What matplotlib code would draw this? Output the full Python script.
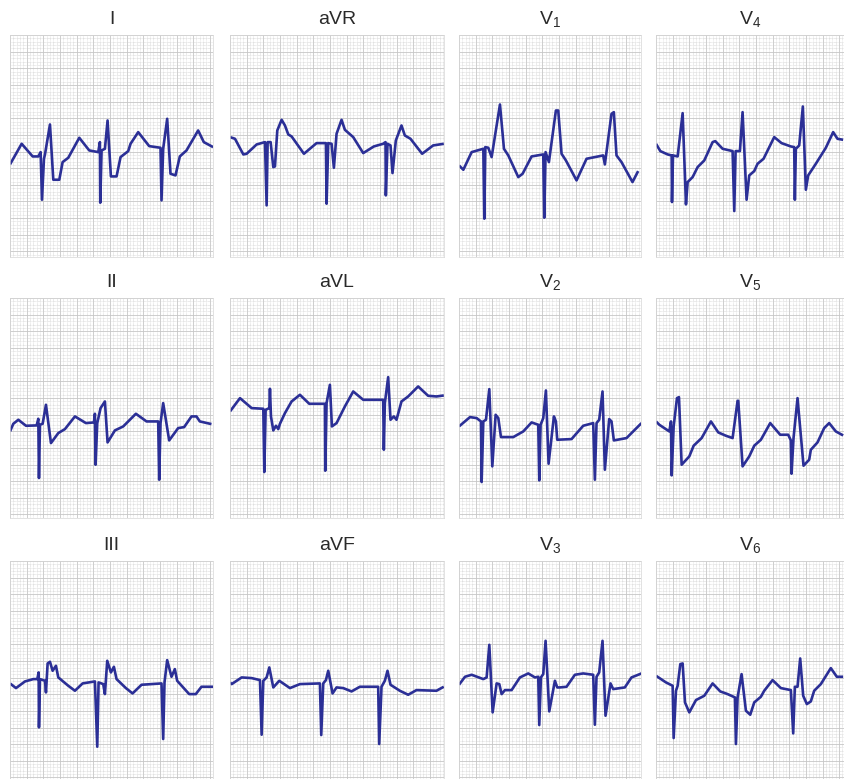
#!/usr/bin/env python3
"""
12-lead ECG panel sheet redrawn from traced points.
Time and amplitude are in millimetres of ECG paper (1 small box = 1 mm).
"""

import numpy as np
import matplotlib.pyplot as plt

plt.rcParams['font.family'] = ['Liberation Sans', 'DejaVu Sans']
plt.rcParams['mathtext.default'] = 'regular'

TRACE_COLOR = '#2b2f96'

# Lead layout (row-major)
LEADS = [["I", "aVR", "V$_1$", "V$_4$"],
         ["II", "aVL", "V$_2$", "V$_5$"],
         ["III", "aVF", "V$_3$", "V$_6$"]]

# Traced samples, time (mm) and amplitude (mm above bottom of panel)
I_t = [0, 3.5, 6.8, 8.5, 9.2, 9.6, 10.2, 10.5, 12.0, 13.0, 14.8, 15.8, 17.5, 20.8, 23.8, 26.5,
       27.0, 27.1, 27.5, 28.5, 29.3, 30.3, 32.0, 33.2, 35.5, 36.2, 38.5, 41.8, 45.2, 45.5, 46.0,
       47.2, 48.2, 49.7, 51.0, 53.0, 56.5, 58.2, 61.0]
I_v = [27.8, 34.0, 30.2, 30.2, 31.5, 17.2, 29.5, 30.8, 39.8, 23.2, 23.2, 28.5, 29.8, 35.8, 32.0, 31.5,
       34.5, 16.3, 32.0, 32.5, 41.0, 24.2, 24.2, 30.0, 31.8, 34.0, 37.5, 33.3, 32.8, 17.0, 32.5,
       41.5, 25.0, 24.5, 30.2, 32.0, 38.0, 34.5, 33.0]

aVR_t = [0, 1.5, 4.0, 5.0, 8.0, 10.5, 11.0, 11.3, 12.2, 13.0, 13.5, 14.2, 15.5, 16.5, 17.5, 18.5,
         22.2, 26.0, 28.8, 29.0, 29.5, 30.5, 31.2, 32.0, 33.5, 34.5, 37.0, 40.0, 43.2, 46.0, 46.7,
         46.8, 47.3, 48.2, 48.8, 49.8, 51.5, 52.5, 54.2, 57.7, 61.0, 64.2]
aVR_v = [36.0, 35.5, 30.8, 31.0, 33.8, 34.5, 15.5, 34.5, 34.5, 27.0, 27.2, 38.0, 41.2, 39.5, 36.8, 36.2,
         31.0, 34.2, 34.2, 16.0, 34.2, 34.0, 26.8, 37.0, 41.2, 38.2, 36.0, 31.2, 33.2, 34.0, 34.5,
         18.5, 34.0, 33.5, 25.2, 35.0, 39.5, 36.5, 35.5, 31.0, 33.5, 34.0]

V1_t = [0, 1.3, 3.8, 7.3, 7.6, 7.9, 8.8, 9.8, 12.3, 13.5, 14.8, 17.8, 19.1, 21.8, 25.3, 25.6, 26.0,
        27.0, 29.1, 29.8, 30.8, 32.1, 35.3, 38.3, 43.3, 43.8, 45.8, 46.5, 47.3, 48.8, 52.1, 53.8]
V1_v = [27.5, 26.2, 31.5, 32.5, 11.5, 33.0, 32.8, 30.0, 45.8, 32.5, 30.5, 24.0, 25.0, 30.2, 30.8, 11.8, 31.5,
        28.5, 44.0, 44.0, 31.0, 29.0, 23.0, 29.5, 30.5, 27.8, 43.0, 43.5, 30.5, 28.5, 22.5, 25.8]

V4_t = [0, 1.3, 3.5, 4.7, 4.8, 5.1, 6.5, 8.0, 9.0, 9.5, 11.0, 12.5, 14.5, 17.0, 17.8, 20.0, 23.0,
        23.5, 23.9, 25.2, 26.0, 27.2, 28.0, 29.5, 30.5, 32.3, 35.5, 37.7, 40.5, 41.5, 41.7, 42.0,
        43.0, 44.1, 45.0, 45.7, 48.0, 51.0, 53.2, 54.5, 56.2]
V4_v = [34.0, 31.8, 30.8, 30.5, 16.5, 30.5, 30.2, 43.2, 15.8, 22.5, 24.0, 27.0, 29.0, 34.5, 34.8, 32.5, 31.8,
        13.8, 31.8, 31.8, 43.5, 17.2, 24.5, 25.8, 28.0, 29.5, 36.0, 34.2, 33.2, 33.0, 17.2, 32.5,
        33.5, 45.2, 20.2, 24.5, 28.0, 32.8, 37.5, 35.5, 35.2]

II_t = [0, 1.0, 2.5, 4.8, 8.0, 8.5, 8.7, 9.0, 9.8, 10.8, 12.3, 14.5, 16.5, 19.5, 22.8, 25.2, 25.5,
        25.7, 26.2, 27.2, 28.5, 29.3, 31.5, 34.0, 37.8, 41.0, 44.5, 44.8, 45.2, 46.0, 47.8, 50.5,
        52.3, 54.5, 56.0, 57.0, 60.5]
II_v = [26.0, 28.3, 29.5, 27.7, 27.8, 29.8, 12.0, 28.0, 28.3, 34.0, 22.5, 25.5, 26.7, 30.5, 28.5, 28.7, 31.3,
        16.0, 28.5, 33.0, 35.0, 22.7, 26.3, 27.5, 31.3, 29.0, 29.0, 11.5, 28.5, 34.5, 23.3, 27.0,
        27.3, 30.5, 30.5, 29.0, 28.2]

aVL_t = [0, 3.0, 6.5, 10.0, 10.3, 10.7, 11.8, 12.0, 12.3, 13.0, 13.8, 14.5, 15.0, 16.5, 18.5, 21.0,
         23.8, 27.5, 28.5, 28.6, 29.0, 30.0, 30.6, 32.0, 33.5, 34.5, 37.0, 40.0, 44.5, 46.0, 46.2,
         46.5, 47.5, 48.2, 49.2, 50.0, 51.5, 53.5, 56.5, 59.5, 62.0, 64.2]
aVL_v = [32.0, 36.0, 33.0, 32.8, 13.8, 32.5, 33.0, 38.8, 30.5, 26.3, 27.7, 26.7, 28.3, 31.5, 35.0, 37.0,
         34.3, 34.3, 34.3, 14.2, 34.5, 40.0, 27.5, 28.5, 31.5, 33.5, 38.0, 35.5, 35.5, 35.5, 20.5,
         34.5, 42.3, 29.5, 30.5, 29.5, 35.0, 36.5, 39.5, 36.7, 36.5, 36.8]

V2_t = [0, 3.3, 5.3, 6.6, 6.8, 7.3, 8.1, 9.1, 10.0, 11.0, 11.8, 12.6, 16.3, 19.3, 21.8, 23.8, 24.1,
        24.5, 25.3, 26.1, 26.9, 28.5, 29.1, 29.5, 33.8, 37.3, 40.3, 40.8, 41.3, 42.1, 43.1, 43.8,
        45.1, 45.8, 46.5, 50.3, 54.8]
V2_v = [27.5, 30.3, 30.0, 29.0, 10.8, 29.0, 29.5, 38.7, 15.5, 31.0, 30.0, 24.3, 24.3, 26.0, 28.7, 28.0, 11.3,
        28.0, 30.0, 38.3, 16.3, 30.5, 29.0, 23.5, 23.7, 27.7, 28.5, 11.5, 28.5, 29.5, 38.0, 14.5,
        29.7, 29.0, 23.3, 24.0, 28.5]

V5_t = [0, 1.0, 4.0, 4.5, 4.7, 5.3, 6.3, 6.9, 7.7, 10.0, 11.3, 13.7, 16.5, 18.7, 21.0, 23.0, 24.5,
        24.7, 26.0, 28.0, 29.5, 31.5, 34.3, 37.3, 39.7, 40.5, 40.7, 41.3, 42.5, 44.3, 46.0, 46.5,
        48.5, 50.5, 52.0, 54.0, 56.2]
V5_v = [29.0, 28.0, 26.0, 29.0, 12.8, 27.5, 36.0, 36.3, 16.0, 18.5, 21.7, 24.0, 29.0, 25.7, 24.7, 24.0, 35.2,
        35.2, 15.5, 18.5, 21.7, 23.5, 28.5, 25.0, 25.0, 23.3, 13.3, 24.0, 36.0, 15.7, 17.5, 20.5,
        22.7, 27.0, 28.5, 26.0, 24.8]

III_t = [0, 1.8, 4.5, 7.0, 8.2, 8.6, 8.7, 9.0, 10.5, 10.8, 11.3, 12.0, 12.8, 13.8, 14.5, 17.5, 19.5,
         21.8, 25.5, 26.2, 26.6, 28.0, 28.5, 29.2, 30.3, 31.2, 32.0, 34.8, 36.8, 39.5, 45.5, 46.0,
         46.4, 47.2, 48.5, 49.5, 50.2, 53.8, 55.8, 57.5, 61.0]
III_v = [28.7, 27.3, 29.3, 30.0, 30.0, 32.0, 15.5, 30.0, 29.5, 26.0, 34.7, 35.2, 32.5, 34.0, 30.5, 28.0, 26.5,
         28.7, 29.3, 9.7, 29.0, 28.5, 25.5, 35.5, 32.0, 33.7, 30.0, 27.3, 25.7, 28.3, 28.7, 12.0,
         29.0, 35.7, 30.7, 33.0, 29.5, 25.5, 25.5, 27.7, 27.7]

aVF_t = [0, 0.5, 3.5, 6.5, 9.0, 9.5, 10.0, 11.0, 11.8, 13.0, 14.8, 18.0, 21.0, 27.0, 27.4, 28.0,
         28.8, 29.5, 30.8, 32.0, 34.0, 36.5, 39.0, 44.5, 44.8, 45.5, 46.5, 47.3, 48.2, 51.0, 53.5,
         56.0, 62.0, 64.2]
aVF_v = [29.0, 28.5, 30.5, 30.3, 29.7, 13.3, 29.5, 30.5, 33.5, 27.5, 29.5, 27.3, 28.5, 28.7, 13.2, 28.7,
         29.7, 32.5, 25.7, 27.5, 27.3, 26.3, 27.7, 27.7, 10.5, 27.7, 29.5, 32.5, 28.3, 26.5, 25.3,
         26.7, 26.5, 27.7]

V3_t = [0, 1.8, 3.8, 7.3, 8.3, 9.1, 10.1, 11.3, 12.1, 12.8, 13.8, 15.8, 18.3, 20.8, 22.8, 23.8, 24.1,
        24.6, 25.3, 26.0, 27.1, 28.8, 29.5, 30.3, 32.3, 34.8, 37.3, 40.3, 40.8, 41.3, 42.1, 43.1,
        44.0, 45.5, 46.3, 49.8, 51.8, 54.8]
V3_v = [28.3, 30.7, 31.3, 30.0, 30.5, 40.3, 20.0, 28.7, 28.5, 25.5, 26.7, 26.7, 30.5, 31.7, 30.5, 30.7, 16.2,
        30.5, 31.5, 41.5, 20.3, 29.5, 27.5, 27.5, 27.7, 31.3, 31.7, 31.3, 16.3, 30.7, 32.0, 41.5,
        19.0, 28.7, 27.0, 27.5, 30.5, 31.7]

V6_t = [0, 3.0, 5.0, 5.3, 6.0, 6.5, 7.3, 8.0, 8.7, 10.0, 12.0, 14.5, 17.0, 19.3, 21.5, 23.7, 24.0,
        24.5, 25.7, 27.0, 28.3, 29.5, 31.5, 32.5, 35.0, 37.5, 40.5, 41.2, 41.7, 42.5, 43.3, 44.2,
        45.3, 46.5, 47.5, 49.5, 52.5, 54.3, 56.2]
V6_v = [31.0, 29.0, 28.0, 12.3, 26.5, 28.0, 34.5, 34.7, 23.0, 20.0, 23.7, 25.0, 28.7, 26.3, 25.5, 24.5, 10.5,
        24.5, 31.5, 20.5, 19.3, 23.0, 24.7, 26.5, 29.7, 27.3, 26.7, 13.7, 27.7, 27.7, 36.2, 25.0,
        22.5, 23.3, 26.5, 28.5, 33.3, 30.7, 30.7]

TRACES = {
    "I": (I_t, I_v), "aVR": (aVR_t, aVR_v), "V$_1$": (V1_t, V1_v), "V$_4$": (V4_t, V4_v),
    "II": (II_t, II_v), "aVL": (aVL_t, aVL_v), "V$_2$": (V2_t, V2_v), "V$_5$": (V5_t, V5_v),
    "III": (III_t, III_v), "aVF": (aVF_t, aVF_v), "V$_3$": (V3_t, V3_v), "V$_6$": (V6_t, V6_v),
}

# Panel geometry in pixels (figure is 844 x 779)
W, H = 844, 779
PX_PER_MM = 3.33
COLS = [(10, 213), (230, 444), (459, 641), (656, 844)]
ROWS = [(35, 257), (298, 518), (561, 779)]


def draw_panel(ax, w_mm, h_mm):
    """ECG paper grid: 1 mm dotted, 5 mm solid"""
    ax.set_xlim(0, w_mm)
    ax.set_ylim(0, h_mm)
    ax.set_xticks(np.arange(0, w_mm, 5))
    ax.set_yticks(np.arange(h_mm, 0, -5))
    ax.set_xticks(np.arange(0, w_mm, 1), minor=True)
    ax.set_yticks(np.arange(h_mm, 0, -1), minor=True)
    ax.grid(which='minor', color='#cdcdcd', lw=0.45, ls=(0, (1, 1)))
    ax.grid(which='major', color='#c6c6c6', lw=0.6)
    ax.tick_params(which='both', length=0, labelbottom=False, labelleft=False)
    for s in ax.spines.values():
        s.set_color('#d6d6d6')
        s.set_linewidth(0.5)
    ax.set_axisbelow(True)


fig = plt.figure(figsize=(W / 100, H / 100), dpi=100)

for r, (top, bot) in enumerate(ROWS):
    for c, (left, right) in enumerate(COLS):
        lead = LEADS[r][c]
        ax = fig.add_axes([left / W, 1 - bot / H, (right - left) / W, (bot - top) / H])
        w_mm = (right - left) / PX_PER_MM
        h_mm = (bot - top) / PX_PER_MM
        draw_panel(ax, w_mm, h_mm)
        t, v = TRACES[lead]
        ax.plot(t, v, color=TRACE_COLOR, lw=1.9, solid_joinstyle='round',
                solid_capstyle='butt', clip_on=True)
        ax.set_title(lead, fontsize=14, color='#2a2a2a', pad=8)

fig.savefig("out.png", dpi=100)
plt.close(fig)
